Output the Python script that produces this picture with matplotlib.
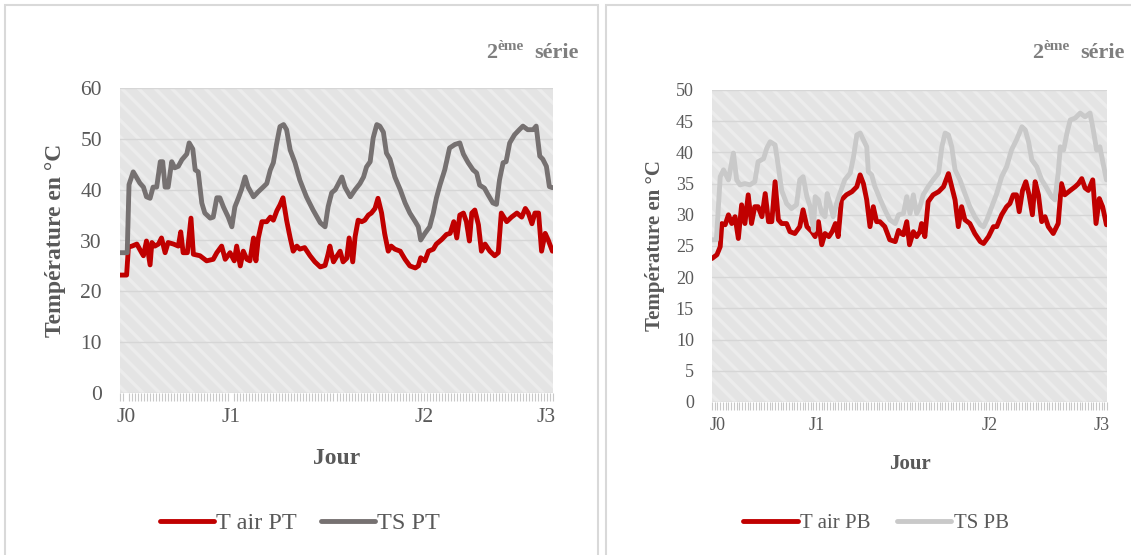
import matplotlib
matplotlib.use("Agg")
import matplotlib.pyplot as plt
from matplotlib.patches import Rectangle

plt.rcParams['font.family'] = ['Liberation Serif', 'DejaVu Serif']
plt.rcParams['hatch.linewidth'] = 2.5

# ---- left chart : PT ----
h_air_pt = [0.0, 1.1, 1.4, 2.0, 2.8, 3.6, 3.9, 4.4, 5.0, 5.3, 5.8, 6.4, 6.9, 7.5, 8.0, 8.9, 9.7, 10.1, 10.5, 11.2,
            11.8, 12.2, 13.3, 14.4, 15.5, 16.1, 16.9, 17.5, 18.3, 19.0, 19.4, 20.0, 20.5, 21.1, 21.6, 22.2, 22.6,
            23.0, 23.6, 24.4, 25.0, 25.5, 26.1, 26.6, 27.1, 27.7, 28.3, 28.8, 29.4, 29.9, 30.7, 31.6, 32.4, 33.3,
            34.1, 34.6, 34.9, 35.5, 36.0, 36.6, 37.1, 37.7, 38.1, 38.7, 39.1, 39.6, 40.2, 40.7, 41.3, 41.8, 42.4,
            42.9, 43.5, 44.0, 44.6, 45.1, 45.7, 46.6, 47.4, 48.2, 49.1, 49.6, 50.0, 50.7, 51.3, 52.1, 52.6, 53.5,
            54.3, 54.9, 55.5, 56.0, 56.5, 57.1, 57.6, 58.1, 58.5, 59.0, 59.6, 60.1, 60.7, 61.5, 62.3, 62.9, 63.4,
            64.3, 65.1, 66.0, 66.8, 67.4, 67.9, 68.5, 69.0, 69.6, 70.1, 70.7, 71.2, 71.9]
t_air_pt = [23.2, 23.2, 28.7, 28.9, 29.3, 27.6, 27.0, 29.9, 25.2, 29.6, 28.9, 29.3, 30.5, 27.6, 29.6, 29.3, 28.9,
            31.7, 27.6, 27.6, 34.4, 27.3, 27.0, 26.0, 26.3, 27.6, 28.9, 26.3, 27.6, 26.0, 28.9, 25.0, 27.9, 26.3,
            26.0, 30.5, 26.0, 30.5, 33.7, 33.7, 34.6, 34.0, 35.9, 37.0, 38.4, 34.0, 30.5, 27.9, 28.9, 28.3, 28.6,
            27.0, 25.8, 24.8, 25.1, 27.3, 28.9, 25.8, 26.8, 27.9, 25.8, 26.5, 30.5, 25.8, 30.8, 34.0, 33.7, 34.0,
            35.0, 35.4, 36.3, 38.3, 35.4, 31.4, 27.9, 28.9, 28.3, 27.9, 26.3, 25.0, 24.6, 25.0, 26.6, 26.0, 27.9,
            28.3, 29.3, 30.2, 31.2, 31.4, 33.7, 30.5, 35.0, 35.4, 33.7, 29.9, 35.4, 36.0, 33.1, 27.9, 29.3, 27.9,
            27.0, 27.6, 35.4, 33.7, 34.6, 35.4, 34.6, 36.3, 35.4, 33.3, 35.4, 35.4, 27.9, 31.4, 30.1, 27.9]

h_ts_pt = [0.0, 1.2, 1.5, 2.2, 3.3, 3.9, 4.4, 5.0, 5.5, 6.1, 6.7, 7.1, 7.5, 8.0, 8.6, 9.1, 9.7, 10.3, 11.1, 11.5,
           12.1, 12.5, 13.0, 13.6, 14.1, 15.0, 15.5, 16.1, 16.6, 17.2, 18.0, 18.6, 19.1, 19.7, 20.2, 20.8, 21.3,
           22.2, 23.0, 23.8, 24.4, 25.0, 25.5, 26.1, 26.6, 27.2, 27.7, 28.3, 29.1, 29.9, 31.0, 32.1, 33.3, 34.1,
           34.6, 35.2, 35.8, 36.9, 37.4, 38.3, 39.1, 39.9, 40.5, 41.0, 41.6, 42.1, 42.7, 43.2, 43.8, 44.3, 44.9,
           45.7, 46.6, 47.4, 48.2, 49.1, 49.6, 50.0, 50.7, 51.5, 52.1, 52.6, 53.2, 54.0, 54.8, 55.7, 56.5, 57.1,
           57.9, 58.7, 59.3, 59.8, 60.6, 61.2, 62.0, 62.6, 63.1, 63.7, 64.2, 64.8, 65.6, 66.4, 67.0, 67.8, 68.7,
           69.2, 69.8, 70.3, 70.9, 71.4, 71.9]
ts_pt = [27.6, 27.6, 41.0, 43.5, 41.3, 40.5, 38.6, 38.3, 40.5, 40.5, 45.5, 45.5, 40.5, 40.5, 45.5, 44.3, 44.6,
         45.9, 47.0, 49.2, 48.0, 43.9, 43.5, 37.4, 35.4, 34.4, 34.6, 38.4, 38.4, 36.6, 34.6, 32.7, 36.6, 38.4,
         40.0, 42.5, 40.5, 38.6, 39.6, 40.5, 41.2, 43.9, 45.3, 49.4, 52.4, 52.8, 51.8, 47.8, 45.3, 41.9, 38.6,
         36.0, 33.5, 32.7, 36.6, 39.4, 40.0, 42.5, 40.5, 38.6, 40.0, 41.2, 42.5, 44.5, 45.5, 50.2, 52.8, 52.5,
         51.3, 47.2, 46.0, 42.5, 40.0, 37.4, 35.4, 33.7, 32.7, 30.1, 31.4, 32.7, 35.4, 38.3, 40.9, 43.9, 48.2,
         48.9, 49.2, 47.0, 45.3, 43.9, 43.3, 40.9, 40.3, 39.0, 37.4, 37.1, 41.9, 45.3, 45.5, 49.2, 50.8, 51.8,
         52.5, 51.8, 51.8, 52.5, 46.6, 46.0, 44.6, 40.6, 40.4]

# ---- right chart : PB ----
h_air_pb = [0.0, 0.9, 1.5, 1.8, 2.4, 3.0, 3.6, 4.2, 4.8, 5.4, 6.0, 6.6, 7.2, 7.8, 8.4, 9.1, 9.7, 10.3, 10.9, 11.5,
            12.1, 12.7, 13.6, 14.2, 15.1, 16.0, 16.6, 17.3, 18.2, 18.8, 19.4, 20.0, 20.6, 21.3, 21.9, 22.5, 23.0,
            23.6, 24.5, 25.5, 26.4, 27.0, 27.6, 28.2, 28.8, 29.4, 30.0, 30.6, 31.5, 32.4, 33.4, 34.0,
            34.5, 34.9, 35.5, 36.0, 36.7, 37.3, 37.9, 38.2, 38.8, 39.4, 40.3, 41.3, 42.2, 43.1, 43.7, 44.3, 44.9,
            45.5, 46.1, 47.0, 47.9, 48.9, 49.5, 50.4, 51.3, 51.9, 52.8, 53.7, 54.3, 54.9, 55.5, 56.0, 56.6, 57.2,
            57.8, 58.4, 58.9, 59.5, 60.1, 60.7, 61.3, 62.2, 63.1, 63.7, 64.3, 65.3, 66.2, 66.8, 67.4, 68.0, 68.6,
            69.4, 70.0, 70.6, 71.2, 71.9]
t_air_pb = [23.0, 23.6, 24.9, 28.6, 28.4, 30.0, 28.6, 29.7, 26.2, 31.6, 28.6, 33.2, 28.6, 31.3, 31.3, 29.7, 33.4,
            28.9, 28.9, 35.3, 29.2, 28.6, 28.6, 27.3, 27.0, 28.1, 30.8, 28.1, 27.3, 26.5, 28.9, 25.2, 27.0, 26.5,
            27.3, 28.6, 26.5, 32.4, 33.2, 33.7, 34.5, 36.4, 35.0, 32.4, 28.1, 31.3, 28.9, 28.9, 28.1, 26.0, 25.7,
            27.5,
            27.0, 26.8, 28.9, 25.2, 27.3, 26.5, 27.3, 28.6, 26.5, 32.1, 33.2, 33.7, 34.5, 36.6, 34.5, 32.4, 28.1,
            31.3, 29.2, 28.6, 27.0, 25.7, 25.4, 26.5, 28.1, 28.1, 30.0, 31.3, 31.8, 33.2, 33.2, 30.5, 33.9, 35.3,
            33.2, 30.0, 35.3, 33.2, 28.9, 29.7, 28.1, 27.0, 28.6, 35.0, 33.2, 33.9, 34.5, 35.0, 35.8, 34.3, 33.9,
            35.6, 28.6, 32.6, 31.3, 28.4]

h_ts_pb = [0.0, 0.8, 1.5, 2.1, 3.0, 3.9, 4.5, 5.1, 6.0, 6.9, 7.8, 8.4, 9.4, 10.0, 10.6, 11.5, 12.1, 12.7, 13.6,
           14.5, 15.4, 16.0, 16.6, 17.3, 17.9, 18.5, 18.8, 19.4, 20.0, 20.6, 21.0, 21.5, 22.1, 22.7, 23.3, 24.2,
           25.2, 25.8, 26.4, 27.0, 27.6, 28.2, 28.5, 29.1, 29.7, 30.6, 31.5, 32.4, 33.4, 34.0, 34.9, 35.5, 36.1,
           36.7, 37.3, 37.9, 38.5, 39.4, 40.3, 41.3, 41.9, 42.5, 43.1, 43.7, 44.3, 45.2, 46.1, 47.0, 47.9, 48.9,
           49.5, 50.1, 51.0, 51.9, 52.8, 53.7, 54.6, 55.5, 56.5, 57.1, 57.7, 58.3, 59.2, 60.1, 61.0, 61.9, 62.5,
           63.1, 63.5, 64.1, 64.7, 65.3, 66.2, 67.1, 68.0, 68.9, 69.5, 70.1, 70.7, 71.3, 71.9]
ts_pb = [26.0, 26.0, 36.1, 37.2, 35.6, 39.9, 35.6, 34.8, 35.0, 34.8, 35.3, 38.5, 39.0, 40.7, 41.7, 41.2, 37.7,
         33.9, 31.8, 31.0, 31.6, 35.6, 36.1, 32.9, 31.3, 27.5, 32.9, 32.4, 30.3, 29.7, 33.4, 31.8, 29.7, 31.8,
         33.4, 35.6, 36.7, 39.3, 42.8, 43.1, 42.0, 40.9, 36.9, 36.4, 34.5, 32.6, 30.8, 29.2, 28.6, 30.0, 30.2,
         32.9, 30.2, 33.2, 30.2, 31.3, 33.2, 34.5, 35.6, 36.7, 40.9, 43.1, 42.8, 40.9, 37.2, 35.6, 33.4, 31.3,
         29.7, 28.4, 28.1, 29.2, 31.3, 33.4, 36.1, 37.7, 40.4, 42.0, 44.1, 43.6, 41.7, 38.8, 37.7, 35.6, 34.3,
         32.9, 32.4, 36.7, 40.9, 40.4, 43.1, 45.2, 45.5, 46.3, 45.7, 46.3, 43.6, 40.4, 40.9, 38.2, 35.6]

day_labels = ["J0", "J1", "J2", "J3"]
day_pos_pt = [1.0, 18.5, 50.6, 70.9]
day_pos_pb = [1.1, 19.1, 50.7, 71.1]

RED = "#C00000"
TXT = "#595959"

fig = plt.figure(figsize=(11.31, 5.55), dpi=100)


def px(x, y):
    return x / 1131, 1 - y / 555


# panel frames
fig.patches.append(Rectangle(px(5, 560), 593 / 1131, 555 / 555, transform=fig.transFigure,
                             fill=False, edgecolor="#D9D9D9", lw=1.5))
fig.patches.append(Rectangle(px(606, 560), 540 / 1131, 555 / 555, transform=fig.transFigure,
                             fill=False, edgecolor="#D9D9D9", lw=1.5))


def setup(ax, ymax, ystep, ticks, fs_tick, fs_lab, ylab_pad):
    ax.add_patch(Rectangle((0, 0), 1, 1, transform=ax.transAxes, facecolor="#E4E4E4",
                           edgecolor="#ECECEC", hatch="\\\\", lw=0, zorder=0))
    ax.set_xlim(0, 72)
    ax.set_ylim(0, ymax)
    ax.set_yticks(range(0, ymax + 1, ystep))
    ax.grid(axis="y", color="#D6D6D6", lw=1)
    ax.set_axisbelow(True)
    for s in ax.spines.values():
        s.set_visible(False)
    ax.set_xticks(ticks)
    ax.set_xticklabels(day_labels)
    ax.set_xticks([i * 0.5 for i in range(145)], minor=True)
    ax.tick_params(axis="x", which="minor", length=6, width=0.8, color="#C8C8C8")
    ax.tick_params(axis="x", which="major", length=0, pad=11, labelsize=fs_tick, labelcolor=TXT)
    ax.tick_params(axis="y", length=0, pad=ylab_pad, labelsize=fs_tick, labelcolor=TXT)
    ax.set_ylabel("Température en °C", fontsize=fs_lab, fontweight="bold", color=TXT)
    ax.set_xlabel("Jour", fontsize=fs_lab, fontweight="bold", color=TXT)


# left
ax1 = fig.add_axes([120 / 1131, 162 / 555, 433 / 1131, 305 / 555])
setup(ax1, 60, 10, day_pos_pt, 15.5, 17, 13)
ax1.plot(h_air_pt, t_air_pt, color=RED, lw=3.5, label="T air PT", solid_capstyle="round")
ax1.plot(h_ts_pt, ts_pt, color="#767171", lw=3.5, label="TS PT", solid_capstyle="round")
ax1.xaxis.labelpad = 15
ax1.yaxis.labelpad = 10
ax1.legend(loc="center", bbox_to_anchor=px(300, 523), bbox_transform=fig.transFigure, ncol=2,
           frameon=False, fontsize=17.5, handlelength=2.2, handletextpad=0.1, columnspacing=1.0,
           labelcolor=TXT)

# right
ax2 = fig.add_axes([712 / 1131, 153 / 555, 395 / 1131, 312 / 555])
setup(ax2, 50, 5, day_pos_pb, 13, 15, 13)
ax2.plot(h_air_pb, t_air_pb, color=RED, lw=3.5, label="T air PB", solid_capstyle="round")
ax2.plot(h_ts_pb, ts_pb, color="#C9C9C9", lw=3.5, label="TS PB", solid_capstyle="round")
ax2.xaxis.labelpad = 14
ax2.yaxis.labelpad = 8
ax2.legend(loc="center", bbox_to_anchor=px(876, 523), bbox_transform=fig.transFigure, ncol=2,
           frameon=False, fontsize=15, handlelength=2.6, handletextpad=0.1, columnspacing=1.3,
           labelcolor=TXT)

# "2eme serie" headings
for x0 in (486, 1032):
    fig.text(*px(x0, 58), "2", fontsize=16, fontweight="bold", color="#7F7F7F", ha="left", va="baseline")
    fig.text(*px(x0 + 12, 50), "ème", fontsize=11, fontweight="bold", color="#7F7F7F", ha="left", va="baseline")
    fig.text(*px(x0 + 48, 58), "série", fontsize=16, fontweight="bold", color="#7F7F7F", ha="left", va="baseline")

fig.savefig("out.png", dpi=100)
